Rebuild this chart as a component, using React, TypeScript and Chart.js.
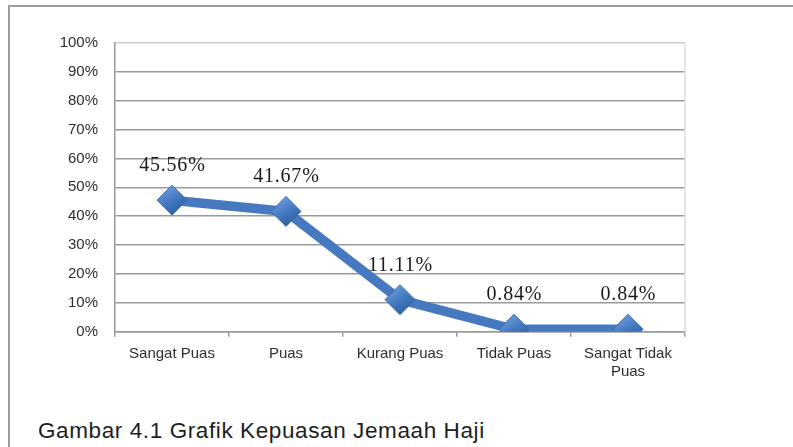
import React, { useEffect, useRef } from "react";
import { Chart, registerables } from "chart.js";

Chart.register(...registerables);

const categories: (string | string[])[] = [
  "Sangat Puas",
  "Puas",
  "Kurang Puas",
  "Tidak Puas",
  ["Sangat Tidak", "Puas"],
];
const satisfactionValues = [45.56, 41.67, 11.11, 0.84, 0.84];
const valueLabels = ["45.56%", "41.67%", "11.11%", "0.84%", "0.84%"];
const yTickValues = [0, 10, 20, 30, 40, 50, 60, 70, 80, 90, 100];
const captionText = "Gambar 4.1 Grafik Kepuasan Jemaah Haji";

const extrasPlugin = {
  id: "extras",
  beforeDatasetsDraw(chart: any) {
    const { ctx, chartArea } = chart;
    ctx.save();
    ctx.strokeStyle = "#d9dee8";
    ctx.lineWidth = 1.5;
    ctx.beginPath();
    ctx.moveTo(chartArea.right, chartArea.top);
    ctx.lineTo(chartArea.right, chartArea.bottom);
    ctx.stroke();
    ctx.restore();
  },
  afterDatasetsDraw(chart: any) {
    const { ctx } = chart;
    const meta = chart.getDatasetMeta(0);
    ctx.save();
    ctx.font = "20px 'Liberation Serif', 'Times New Roman', serif";
    (ctx as any).letterSpacing = "0.8px";
    ctx.fillStyle = "#1a1a1a";
    ctx.textAlign = "center";
    ctx.textBaseline = "alphabetic";
    meta.data.forEach((pt: any, i: number) => {
      ctx.fillText(valueLabels[i], pt.x + 0.4, pt.y - 29);
    });
    ctx.restore();
  },
};

export default function App() {
  const canvasRef = useRef<HTMLCanvasElement | null>(null);

  useEffect(() => {
    if (!canvasRef.current) return;
    const chart = new Chart(canvasRef.current, {
      type: "line",
      data: {
        labels: categories as any,
        datasets: [
          {
            data: satisfactionValues,
            borderColor: "#4679bf",
            borderWidth: 9.5,
            borderJoinStyle: "round",
            borderCapStyle: "round",
            pointStyle: "rectRot",
            pointRadius: 15,
            pointHoverRadius: 15,
            pointBorderColor: "#3a6cae",
            pointBorderWidth: 1,
            pointBackgroundColor: (context: any) => {
              const c = context.chart;
              const xs = c.scales.x;
              const ys = c.scales.y;
              if (!xs || !ys || context.dataIndex === undefined) return "#4679bf";
              const px = xs.getPixelForValue(context.dataIndex);
              const py = ys.getPixelForValue(satisfactionValues[context.dataIndex]);
              if (!isFinite(px) || !isFinite(py)) return "#4679bf";
              const g = c.ctx.createLinearGradient(px - 8, py - 14, px + 8, py + 14);
              g.addColorStop(0, "#6f9fdd");
              g.addColorStop(0.5, "#4479c0");
              g.addColorStop(1, "#2b5c9e");
              return g;
            },
            tension: 0,
            fill: false,
          },
        ],
      },
      options: {
        animation: false,
        responsive: false,
        maintainAspectRatio: false,
        events: [],
        layout: { padding: { left: 0, top: 43, right: 108, bottom: 0 } },
        plugins: {
          legend: { display: false },
          tooltip: { enabled: false },
          title: { display: false },
        },
        scales: {
          x: {
            type: "category",
            offset: true,
            afterFit: (scale: any) => {
              scale.height = 68.3;
            },
            grid: {
              offset: true,
              drawOnChartArea: false,
              drawTicks: true,
              tickLength: 5,
              color: "#9a9a9a",
              lineWidth: 1.5,
            },
            border: { display: true, color: "#9a9a9a", width: 1.5 },
            ticks: {
              color: "#2e2e2e",
              font: { family: "'Liberation Sans', Arial, sans-serif", size: 15, lineHeight: 1.2 },
              padding: 8,
              maxRotation: 0,
              autoSkip: false,
            },
          },
          y: {
            min: 0,
            max: 100,
            afterFit: (scale: any) => {
              scale.width = 115;
            },
            afterBuildTicks: (scale: any) => {
              scale.ticks = yTickValues.map((v) => ({ value: v }));
            },
            grid: {
              drawTicks: false,
              color: (ctx: any) => (ctx.tick && ctx.tick.value === 100 ? "#c9ccd3" : "#9a9a9a"),
              lineWidth: 1.5,
            },
            border: { display: true, color: "#9a9a9a", width: 1.5 },
            ticks: {
              color: "#2e2e2e",
              font: { family: "'Liberation Sans', Arial, sans-serif", size: 15 },
              padding: 17,
              callback: (v: any) => `${v}%`,
            },
          },
        },
      },
      plugins: [extrasPlugin],
    });
    return () => chart.destroy();
  }, []);

  return (
    <div
      style={{
        position: "fixed",
        left: 0,
        top: 0,
        width: 793,
        height: 447,
        background: "#ffffff",
        overflow: "hidden",
      }}
    >
      <div
        style={{
          position: "absolute",
          left: 8,
          top: 5,
          width: 900,
          height: 600,
          borderLeft: "2px solid #9c9c9c",
          borderTop: "2px solid #9c9c9c",
          boxSizing: "border-box",
        }}
      />
      <canvas
        ref={canvasRef}
        width={793}
        height={400}
        style={{ position: "absolute", left: 0, top: 0, width: 793, height: 400 }}
      />
      <div
        style={{
          position: "absolute",
          left: 38,
          top: 420,
          fontFamily: "'Liberation Sans', Arial, sans-serif",
          fontSize: 22.5,
          lineHeight: "22.5px",
          letterSpacing: "0.6px",
          color: "#1e1e1e",
          whiteSpace: "nowrap",
        }}
      >
        {captionText}
      </div>
    </div>
  );
}
